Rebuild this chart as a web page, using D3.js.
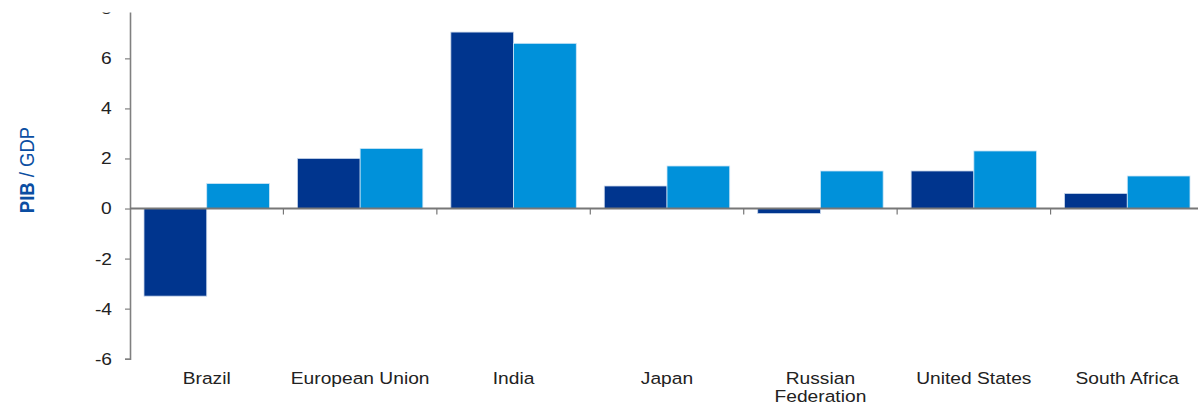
<!DOCTYPE html>
<html>
<head>
<meta charset="utf-8">
<script src="https://cdn.jsdelivr.net/npm/d3@7"></script>
<style>
  body { margin: 0; background: #fff; }
  text { font-family: "Liberation Sans", Arial, sans-serif; }
</style>
</head>
<body>
<div id="chart"></div>
<script>
// data
var countries = ["Brazil", "European Union", "India", "Japan", "Russian\nFederation", "United States", "South Africa"];
var series1 = [-3.5, 2.0, 7.05, 0.9, -0.2, 1.5, 0.6];
var series2 = [1.0, 2.4, 6.6, 1.7, 1.5, 2.3, 1.3];
var yTicks = [-6, -4, -2, 0, 2, 4, 6, 8];

var W = 1198, H = 406;
var stretch = 1.13;   // text in the picture is a bit wider than normal

var svg = d3.select("#chart").append("svg")
    .attr("width", W)
    .attr("height", H);

var x = d3.scaleBand()
    .domain(countries)
    .range([130, 1204])
    .padding(0);

var y = d3.scaleLinear()
    .domain([-6, 8])
    .range([358.7, 8.3]);

var inset = 14;
var barW = (x.bandwidth() - 2 * inset) / 2;

var rows = countries.map(function(c, i) {
    return {name: c, v1: series1[i], v2: series2[i]};
});

var g = svg.append("g");

// dark bars
g.selectAll(".b1")
    .data(rows)
    .enter().append("rect")
    .attr("class", "b1")
    .attr("x", function(d) { return x(d.name) + inset; })
    .attr("y", function(d) { return y(Math.max(0, d.v1)); })
    .attr("width", barW)
    .attr("height", function(d) { return Math.abs(y(d.v1) - y(0)); })
    .attr("fill", "#00358e")
    .attr("stroke", "#c9d6ea")
    .attr("stroke-width", 0.8);

// light bars
g.selectAll(".b2")
    .data(rows)
    .enter().append("rect")
    .attr("class", "b2")
    .attr("x", function(d) { return x(d.name) + inset + barW; })
    .attr("y", function(d) { return y(Math.max(0, d.v2)); })
    .attr("width", barW)
    .attr("height", function(d) { return Math.abs(y(d.v2) - y(0)); })
    .attr("fill", "#0091da")
    .attr("stroke", "#cfe6f6")
    .attr("stroke-width", 0.8);

// y axis
var yAxis = svg.append("g")
    .attr("transform", "translate(130,0)")
    .call(d3.axisLeft(y).tickValues(yTicks).tickSize(5).tickPadding(14)
        .tickFormat(function(d) { return String(d); }));
yAxis.select(".domain").attr("stroke", "#808080").attr("stroke-width", 1.6);
yAxis.selectAll(".tick line").attr("stroke", "#808080").attr("stroke-width", 1.2);
yAxis.selectAll(".tick text")
    .attr("font-size", 17)
    .attr("fill", "#222")
    .attr("font-family", "Liberation Sans, Arial, sans-serif");

// x axis along zero
var xAxis = svg.append("g")
    .attr("transform", "translate(0," + y(0) + ")");
xAxis.append("line")
    .attr("x1", 130).attr("x2", 1204)
    .attr("stroke", "#777").attr("stroke-width", 2);
xAxis.selectAll(".xt")
    .data(countries.slice(1))
    .enter().append("line")
    .attr("x1", function(d) { return x(d); })
    .attr("x2", function(d) { return x(d); })
    .attr("y1", 0).attr("y2", 6)
    .attr("stroke", "#777").attr("stroke-width", 1.2);

// category labels
var labels = svg.append("g").selectAll("text")
    .data(countries)
    .enter().append("text")
    .attr("x", function(d) { return x(d) + x.bandwidth() / 2; })
    .attr("y", 384)
    .attr("text-anchor", "middle")
    .attr("font-size", 17)
    .attr("fill", "#222");
labels.each(function(d) {
    var t = d3.select(this);
    d.split("\n").forEach(function(part, i) {
        t.append("tspan")
            .attr("x", x(d) + x.bandwidth() / 2)
            .attr("dy", i === 0 ? 0 : 18)
            .text(part);
    });
});

// widen text slightly to match the picture
svg.selectAll("text").each(function() {
    var el = this;
    var bb = el.getBBox();
    var cx = bb.x + bb.width / 2;
    d3.select(el).attr("transform",
        "translate(" + cx + ",0) scale(" + stretch + ",1) translate(" + (-cx) + ",0)");
});

// y title
var title = svg.append("text")
    .attr("transform", "translate(34,170) rotate(-90) scale(1,1.12)")
    .attr("text-anchor", "middle")
    .attr("font-size", 18.5)
    .attr("fill", "#0b4ea2");
title.append("tspan").attr("font-weight", "bold").text("PIB");
title.append("tspan").text(" / GDP");

// the top of the picture is cut off
svg.append("rect")
    .attr("x", 0).attr("y", 0)
    .attr("width", W).attr("height", 12.5)
    .attr("fill", "#fff");
</script>
</body>
</html>
